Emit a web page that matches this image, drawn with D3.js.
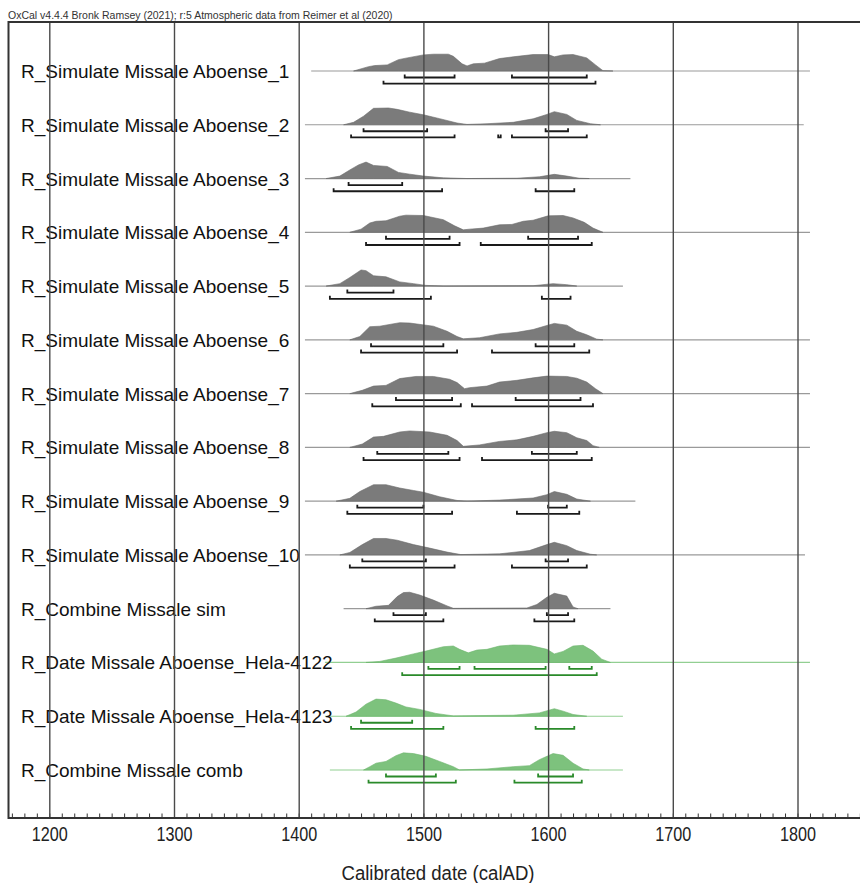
<!DOCTYPE html>
<html>
<head>
<meta charset="utf-8">
<script src="https://cdn.jsdelivr.net/npm/d3@7"></script>
<style>
  body { margin: 0; background: #fff; }
  svg { display: block; font-family: "Liberation Sans", Arial, sans-serif; }
</style>
</head>
<body>
<svg id="chart"></svg>
<script>
const headerText = "OxCal v4.4.4 Bronk Ramsey (2021); r:5 Atmospheric data from Reimer et al (2020)";
const axisTitle = "Calibrated date (calAD)";
const majorYears = [1200, 1300, 1400, 1500, 1600, 1700, 1800];

const labels = [
  "R_Simulate Missale Aboense_1",
  "R_Simulate Missale Aboense_2",
  "R_Simulate Missale Aboense_3",
  "R_Simulate Missale Aboense_4",
  "R_Simulate Missale Aboense_5",
  "R_Simulate Missale Aboense_6",
  "R_Simulate Missale Aboense_7",
  "R_Simulate Missale Aboense_8",
  "R_Simulate Missale Aboense_9",
  "R_Simulate Missale Aboense_10",
  "R_Combine Missale sim",
  "R_Date Missale Aboense_Hela-4122",
  "R_Date Missale Aboense_Hela-4123",
  "R_Combine Missale comb"
];

// "sim" = grey, "obs" = green
const groups = ["sim","sim","sim","sim","sim","sim","sim","sim","sim","sim","sim","obs","obs","obs"];

// calendar span of each row's baseline
const spans = [
  [1410,1810],[1405,1805],[1405,1666],[1405,1810],[1405,1660],[1405,1810],[1405,1810],
  [1405,1810],[1405,1670],[1405,1806],[1436,1650],[1421,1810],[1421,1660],[1425,1660]
];

// relative probability, [year, p]
const densities = [
  [[1444,0],[1456,.25],[1461,.31],[1471,.35],[1480,.65],[1487,.75],[1500,.92],[1508,.96],[1520,.96],[1524,.84],[1531,.41],[1535,.29],[1540,.41],[1549,.45],[1561,.71],[1572,.81],[1588,.94],[1600,.94],[1605,.81],[1612,.92],[1620,.94],[1631,.75],[1638,.35],[1644,.02],[1652,0]],
  [[1436,0],[1444,.14],[1452,.49],[1460,.94],[1472,.96],[1479,.88],[1489,.72],[1500,.57],[1513,.35],[1527,.1],[1535,.02],[1551,.06],[1572,.14],[1588,.34],[1599,.59],[1605,.75],[1615,.59],[1623,.25],[1634,.06],[1642,0]],
  [[1422,0],[1433,.14],[1441,.49],[1448,.78],[1454,.94],[1460,.75],[1471,.69],[1480,.35],[1489,.25],[1500,.14],[1516,.04],[1535,0],[1575,.02],[1593,.1],[1605,.24],[1615,.14],[1625,.02],[1633,0]],
  [[1441,0],[1450,.18],[1457,.53],[1462,.63],[1470,.66],[1481,.92],[1486,.98],[1500,.96],[1516,.72],[1525,.37],[1532,.14],[1537,.18],[1548,.24],[1561,.43],[1571,.45],[1580,.63],[1588,.69],[1600,.94],[1612,.96],[1620,.82],[1629,.57],[1636,.24],[1644,0]],
  [[1422,0],[1433,.14],[1441,.49],[1450,.92],[1454,.88],[1460,.59],[1470,.53],[1481,.24],[1492,.14],[1502,.04],[1516,0],[1588,.02],[1604,.14],[1615,.08],[1623,0]],
  [[1441,0],[1449,.19],[1457,.75],[1465,.78],[1481,.98],[1489,.96],[1508,.78],[1519,.49],[1527,.19],[1532,.06],[1545,.12],[1561,.34],[1575,.43],[1588,.59],[1599,.82],[1605,.94],[1615,.84],[1623,.49],[1631,.29],[1639,.04],[1644,0]],
  [[1441,0],[1451,.19],[1460,.43],[1470,.47],[1481,.86],[1494,.98],[1508,.98],[1521,.82],[1527,.63],[1533,.28],[1537,.34],[1551,.43],[1561,.66],[1575,.76],[1588,.9],[1599,1],[1615,.98],[1623,.88],[1631,.66],[1638,.28],[1644,0]],
  [[1441,0],[1451,.19],[1460,.59],[1468,.63],[1481,.88],[1489,.94],[1505,.88],[1519,.69],[1527,.39],[1532,.06],[1545,.14],[1561,.34],[1575,.43],[1588,.63],[1599,.84],[1605,.92],[1615,.84],[1623,.55],[1631,.39],[1636,.1],[1641,0]],
  [[1430,0],[1441,.16],[1449,.55],[1460,.94],[1470,.94],[1481,.75],[1492,.61],[1500,.51],[1513,.25],[1527,.04],[1535,0],[1561,.06],[1588,.18],[1599,.37],[1605,.55],[1615,.39],[1623,.12],[1634,0]],
  [[1433,0],[1441,.14],[1451,.59],[1460,.94],[1470,.94],[1479,.84],[1492,.59],[1505,.39],[1519,.16],[1530,.02],[1561,.06],[1585,.25],[1599,.59],[1605,.72],[1615,.53],[1623,.25],[1634,.04],[1639,0]],
  [[1454,0],[1462,.14],[1472,.19],[1479,.69],[1484,.92],[1489,.94],[1497,.78],[1508,.49],[1519,.16],[1524,.02],[1583,.04],[1591,.24],[1599,.65],[1605,.88],[1615,.72],[1620,.1],[1624,0]],
  [[1454,0],[1465,.06],[1478,.25],[1492,.49],[1502,.65],[1516,.9],[1524,.94],[1529,.75],[1536,.55],[1543,.71],[1551,.75],[1561,.94],[1572,1],[1585,.98],[1599,.75],[1605,.49],[1612,.63],[1620,.94],[1628,.98],[1636,.65],[1643,.19],[1650,0]],
  [[1438,0],[1446,.24],[1454,.69],[1462,.98],[1470,.94],[1478,.75],[1486,.53],[1497,.39],[1510,.16],[1524,.02],[1572,.06],[1593,.19],[1605,.43],[1612,.29],[1620,.1],[1631,0]],
  [[1452,0],[1457,.19],[1462,.39],[1470,.49],[1478,.82],[1484,.98],[1492,.94],[1502,.78],[1513,.49],[1524,.19],[1529,0],[1551,.06],[1572,.19],[1585,.25],[1593,.59],[1604,.94],[1612,.84],[1620,.39],[1628,.06],[1633,0]]
];

// 68.2% ranges
const ranges68 = [
  [[1485,1525],[1571,1631]],
  [[1452,1503],[1598,1616]],
  [[1440,1483]],
  [[1470,1521],[1584,1624]],
  [[1439,1476]],
  [[1458,1516],[1590,1621]],
  [[1478,1523],[1574,1626]],
  [[1463,1520],[1587,1623]],
  [[1447,1500],[1600,1615]],
  [[1451,1502],[1598,1616]],
  [[1476,1502],[1599,1616]],
  [[1504,1529],[1541,1598],[1617,1635]],
  [[1450,1491]],
  [[1470,1510],[1592,1620]]
];

// 95.4% ranges
const ranges95 = [
  [[1468,1638]],
  [[1442,1525],[1560,1562],[1571,1631]],
  [[1428,1515],[1590,1621]],
  [[1454,1529],[1546,1635]],
  [[1425,1506],[1595,1618]],
  [[1450,1527],[1555,1633]],
  [[1459,1530],[1539,1636]],
  [[1452,1529],[1547,1635]],
  [[1439,1523],[1575,1625]],
  [[1441,1525],[1571,1631]],
  [[1461,1516],[1589,1621]],
  [[1483,1639]],
  [[1442,1516],[1590,1621]],
  [[1456,1526],[1573,1627]]
];

const palette = {
  sim: {fill: "#7b7b7b", edge: "#6a6a6a", base: "#9a9a9a", bracket: "#1a1a1a"},
  obs: {fill: "#7dc27d", edge: "#6cb46c", base: "#92cf92", bracket: "#2a8a2a"}
};

class OxcalPlot {

  constructor(){
    let width = 860, height = 883;
    this.top = 22;
    this.bottom = 818;
    this.left = 8.5;
    this.width = width;
    this.svg = d3.select("#chart").attr("width", width).attr("height", height);
    this.x = d3.scaleLinear().domain([1200, 1800]).range([49.3, 797.5]);
    this.y = d3.scalePoint().domain(labels).range([71, 770]);
    this.h = d3.scaleLinear().domain([0, 1]).range([0, -17.5]);
  }

  drawRows(){
    let self = this;
    let rows = self.svg.append("g").selectAll("g.row")
      .data(labels.map((l, i) => ({label: l, i: i})))
      .enter().append("g")
      .attr("class", "row")
      .attr("transform", d => "translate(0," + self.y(d.label) + ")");

    rows.append("line")
      .attr("x1", d => self.x(spans[d.i][0]))
      .attr("x2", d => self.x(spans[d.i][1]))
      .attr("stroke", d => palette[groups[d.i]].base)
      .attr("stroke-width", 1.2);

    let area = d3.area()
      .x(d => self.x(d[0]))
      .y0(0)
      .y1(d => self.h(d[1]));

    rows.append("path")
      .attr("d", d => area(densities[d.i]))
      .attr("fill", d => palette[groups[d.i]].fill)
      .attr("stroke", d => palette[groups[d.i]].edge)
      .attr("stroke-width", 0.6);

    let bracket = function(r, off){
      let x1 = self.x(r[0]), x2 = self.x(r[1]);
      return "M" + x1 + "," + (off - 3) + "V" + off + "H" + x2 + "V" + (off - 3);
    };

    rows.selectAll("path.r68")
      .data(d => ranges68[d.i].map(r => ({r: r, g: groups[d.i]})))
      .enter().append("path")
      .attr("class", "r68")
      .attr("d", d => bracket(d.r, 6.5))
      .attr("fill", "none")
      .attr("stroke", d => palette[d.g].bracket)
      .attr("stroke-width", 1.8);

    rows.selectAll("path.r95")
      .data(d => ranges95[d.i].map(r => ({r: r, g: groups[d.i]})))
      .enter().append("path")
      .attr("class", "r95")
      .attr("d", d => bracket(d.r, 12.7))
      .attr("fill", "none")
      .attr("stroke", d => palette[d.g].bracket)
      .attr("stroke-width", 1.8);

    self.rows = rows;
  }

  drawAxes(){
    let self = this;
    let minor = d3.axisBottom(self.x)
      .tickValues(d3.range(1170, 1860, 10))
      .tickSize(-4.5)
      .tickFormat("");
    let gMinor = self.svg.append("g")
      .attr("transform", "translate(0," + self.bottom + ")")
      .call(minor);
    gMinor.select(".domain").remove();
    gMinor.selectAll(".tick line").attr("stroke", "#333").attr("stroke-width", 1);

    let major = d3.axisBottom(self.x)
      .tickValues(majorYears)
      .tickSize(-(self.bottom - self.top))
      .tickPadding(9)
      .tickFormat(d3.format("d"));
    let gMajor = self.svg.append("g")
      .attr("transform", "translate(0," + self.bottom + ")")
      .call(major);
    gMajor.select(".domain").remove();
    gMajor.selectAll(".tick line").attr("stroke", "#4a4a4a").attr("stroke-width", 1.4);
    gMajor.selectAll(".tick text")
      .attr("fill", "#222")
      .attr("textLength", 36)
      .attr("lengthAdjust", "spacingAndGlyphs")
      .style("font-size", "20px")
      .style("font-family", "'Liberation Sans', Arial, sans-serif");

    // frame: top, left, bottom
    let frame = self.svg.append("g").attr("stroke", "#333").attr("stroke-width", 2);
    frame.append("line").attr("x1", self.left).attr("x2", self.width).attr("y1", self.top).attr("y2", self.top);
    frame.append("line").attr("x1", self.left).attr("x2", self.left).attr("y1", self.top - 1).attr("y2", self.bottom + 1);
    frame.append("line").attr("x1", self.left).attr("x2", self.width).attr("y1", self.bottom).attr("y2", self.bottom);

    self.svg.append("text")
      .attr("x", 438)
      .attr("y", 880)
      .attr("text-anchor", "middle")
      .attr("fill", "#222")
      .attr("textLength", 193)
      .attr("lengthAdjust", "spacingAndGlyphs")
      .style("font-size", "20px")
      .text(axisTitle);
  }

  drawLabels(){
    let self = this;
    self.rows.append("text")
      .attr("x", 21)
      .attr("y", 7)
      .attr("fill", "#111")
      .style("font-size", "19px")
      .text(d => d.label);

    self.svg.append("text")
      .attr("x", 8)
      .attr("y", 19)
      .attr("fill", "#333")
      .style("font-size", "10.5px")
      .text(headerText);
  }
}

let plot = new OxcalPlot();
plot.drawRows();
plot.drawAxes();
plot.drawLabels();
</script>
</body>
</html>
